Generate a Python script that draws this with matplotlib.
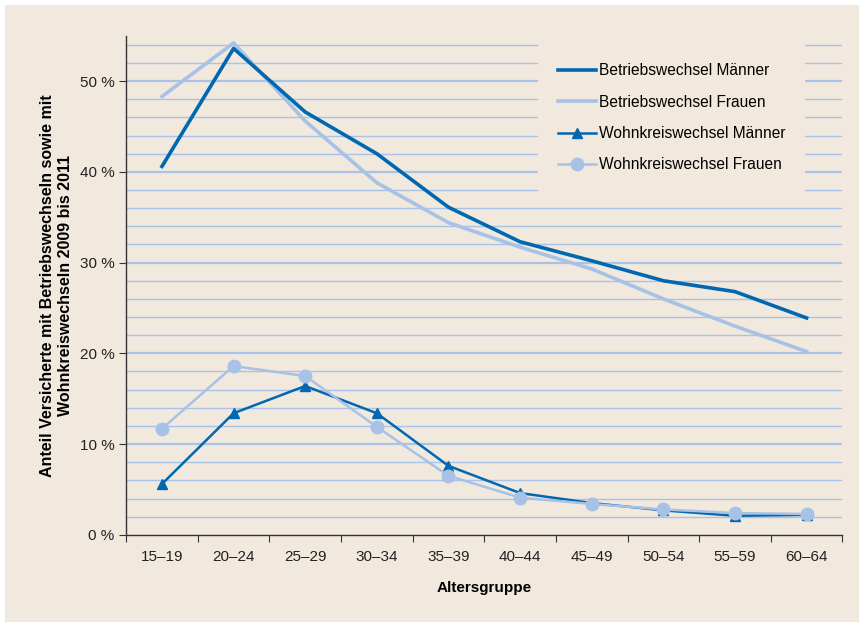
import matplotlib.pyplot as plt
import numpy as np
from matplotlib.patches import Rectangle

plt.rcParams['font.family'] = ['Liberation Sans', 'DejaVu Sans']

groups = ["15–19", "20–24", "25–29", "30–34", "35–39", "40–44", "45–49", "50–54", "55–59", "60–64"]
betrieb_m = [40.6, 53.6, 46.6, 42.0, 36.1, 32.3, 30.2, 28.0, 26.8, 23.9]
betrieb_f = [48.3, 54.2, 45.6, 38.8, 34.4, 31.7, 29.3, 26.0, 23.0, 20.2]
wohn_m = [5.6, 13.4, 16.4, 13.4, 7.6, 4.6, 3.5, 2.7, 2.1, 2.2]
wohn_f = [11.7, 18.6, 17.5, 11.9, 6.5, 4.1, 3.4, 2.8, 2.4, 2.3]

bg = "#F1E9DD"
dark = "#0067B1"
light = "#A7C2E6"
grid = "#A9C3E8"

fig = plt.figure(figsize=(8.64, 6.27), dpi=100)
fig.patch.set_facecolor("white")
fig.patches.append(Rectangle((0.006, 0.008), 0.988, 0.984, transform=fig.transFigure,
                             facecolor=bg, edgecolor="none", zorder=-10))

ax = fig.add_axes([0.146, 0.147, 0.829, 0.796])
ax.set_facecolor(bg)
x = np.arange(len(groups))

for v in np.arange(2, 56, 2):
    lw = 1.6 if v % 10 == 0 else 1.0
    ax.axhline(v, color=grid, lw=lw, zorder=0)

ax.plot(x, betrieb_m, color=dark, lw=2.6, label="Betriebswechsel Männer", zorder=3)
ax.plot(x, betrieb_f, color=light, lw=2.6, label="Betriebswechsel Frauen", zorder=2)
ax.plot(x, wohn_m, color=dark, lw=1.8, marker="^", ms=6.5, label="Wohnkreiswechsel Männer", zorder=3)
ax.plot(x, wohn_f, color=light, lw=1.8, marker="o", ms=9, label="Wohnkreiswechsel Frauen", zorder=4)

ax.set_xlim(-0.5, 9.5)
ax.set_ylim(0, 55)
ax.set_xticks(np.arange(-0.5, 10, 1))
ax.set_xticklabels([])
ax.set_xticks(x, minor=True)
ax.set_xticklabels(groups, minor=True, fontsize=11, color="#222222")
ax.tick_params(axis="x", which="minor", length=0, pad=11)
ax.tick_params(axis="x", which="major", length=5, direction="out", color="#333333")
ax.set_yticks([0, 10, 20, 30, 40, 50])
ax.set_yticklabels(["0 %", "10 %", "20 %", "30 %", "40 %", "50 %"], fontsize=11, color="#222222")
ax.tick_params(axis="y", length=5, direction="out", color="#333333")

for s in ["top", "right"]:
    ax.spines[s].set_visible(False)
for s in ["left", "bottom"]:
    ax.spines[s].set_color("#333333")
    ax.spines[s].set_linewidth(1.0)

ax.set_xlabel("Altersgruppe", fontsize=11, fontweight="bold", labelpad=12)
ax.set_ylabel("Anteil Versicherte mit Betriebswechseln sowie mit\nWohnkreiswechseln 2009 bis 2011",
              fontsize=11.5, fontweight="bold", labelpad=5)

leg = ax.legend(loc="upper left", bbox_to_anchor=(0.575, 0.985), frameon=True, fontsize=11.2,
                handlelength=2.4, handletextpad=0.2, labelspacing=1.05, borderpad=1.3,
                borderaxespad=0)
leg.get_frame().set_facecolor(bg)
leg.get_frame().set_edgecolor("none")
leg.get_frame().set_alpha(1)

fig.savefig("out.png", dpi=100, facecolor=fig.get_facecolor())
